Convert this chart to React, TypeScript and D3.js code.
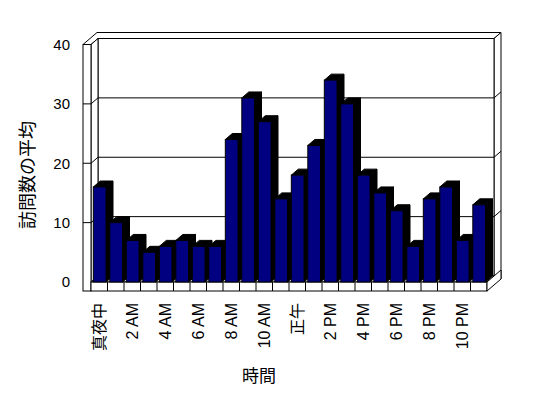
import * as d3 from 'd3';
import * as React from 'react';

const W = 548;
const H = 398;

// hours of the day (only every second one gets a label)
const hours = [
  '真夜中', '1 AM', '2 AM', '3 AM', '4 AM', '5 AM', '6 AM', '7 AM', '8 AM', '9 AM', '10 AM', '11 AM',
  '正午', '1 PM', '2 PM', '3 PM', '4 PM', '5 PM', '6 PM', '7 PM', '8 PM', '9 PM', '10 PM', '11 PM',
];
const visits = [16, 10, 7, 5, 6, 7, 6, 6, 24, 31, 27, 14, 18, 23, 34, 30, 18, 15, 12, 6, 14, 16, 7, 13];
const yTicks = [0, 10, 20, 30, 40];

const yTitle = '訪問数の平均';
const xTitle = '時間';

const font = '"Liberation Sans", Arial, "Noto Sans CJK JP", sans-serif';

// front of the plot box
const left = 91;
const right = 487;
const floorY = 282;
const floorH = 9;
const wallW = 8;
const dx = 7;
const dy = -6;

export default function App() {
  const x = d3.scaleBand<string>().domain(hours).range([left, right]);
  const y = d3.scaleLinear().domain([0, 40]).range([floorY, 44.5]);
  const step = x.step();
  const barOff = step * 0.14;
  const barW = step * 0.77;

  const top = y(40);
  const pts = (p: number[][]) => p.map(d => d.join(',')).join(' ');

  return (
    <svg
      width={W}
      height={H}
      style={{ position: 'absolute', left: 0, top: 0, background: '#fff' }}
      fontFamily={font}
    >
      <g fill="#fff" stroke="#000" strokeWidth={1}>
        {/* wall tops */}
        <polygon
          points={pts([
            [left - wallW, top],
            [left, top],
            [left + dx, top + dy],
            [right + dx, top + dy],
            [right + 2 * dx, top + 2 * dy],
            [left - wallW + 2 * dx, top + 2 * dy],
          ])}
        />
        {/* back wall right side */}
        <polygon
          points={pts([
            [right + dx, top + dy],
            [right + 2 * dx, top + 2 * dy],
            [right + 2 * dx, floorY + floorH + 2 * dy],
            [right + dx, floorY + dy],
          ])}
        />
        {/* back wall */}
        <rect x={left + dx} y={top + dy} width={right - left} height={floorY - top} />
        {/* left wall inner face */}
        <polygon
          points={pts([
            [left, top],
            [left + dx, top + dy],
            [left + dx, floorY + dy],
            [left, floorY],
          ])}
        />
        {/* left wall front */}
        <rect x={left - wallW} y={top} width={wallW} height={floorY + floorH - top} />
        {/* floor top */}
        <polygon
          points={pts([
            [left, floorY],
            [right, floorY],
            [right + dx, floorY + dy],
            [left + dx, floorY + dy],
          ])}
        />
        {/* floor front */}
        <rect x={left} y={floorY} width={right - left} height={floorH} />
        {/* floor right side */}
        <polygon
          points={pts([
            [right, floorY],
            [right + 2 * dx, floorY + 2 * dy],
            [right + 2 * dx, floorY + floorH + 2 * dy],
            [right, floorY + floorH],
          ])}
        />
      </g>

      {/* gridlines */}
      <g stroke="#000" fill="none">
        {yTicks.slice(1, -1).map(t => (
          <g key={t}>
            <line x1={left - wallW} x2={left} y1={y(t)} y2={y(t)} />
            <line x1={left} x2={left + dx} y1={y(t)} y2={y(t) + dy} />
            <line x1={left + dx} x2={right + dx} y1={y(t) + dy} y2={y(t) + dy} />
            <line x1={right + dx} x2={right + 2 * dx} y1={y(t) + dy} y2={y(t) + 2 * dy} />
          </g>
        ))}
        {hours.slice(1).map(h => (
          <line key={h} x1={x(h)} x2={x(h)} y1={floorY} y2={floorY + floorH} />
        ))}
      </g>

      {/* bars */}
      <g stroke="#000" strokeWidth={1}>
        {hours.map((h, i) => {
          const x0 = (x(h) as number) + barOff;
          const x1 = x0 + barW;
          const yt = y(visits[i]);
          return (
            <g key={h}>
              <polygon
                fill="#000"
                points={pts([
                  [x1, yt],
                  [x1 + dx, yt + dy],
                  [x1 + dx, floorY + dy],
                  [x1, floorY],
                ])}
              />
              <polygon
                fill="#000"
                points={pts([
                  [x0, yt],
                  [x0 + dx, yt + dy],
                  [x1 + dx, yt + dy],
                  [x1, yt],
                ])}
              />
              <rect x={x0} y={yt} width={barW} height={floorY - yt} fill="#000080" />
            </g>
          );
        })}
      </g>

      {/* y tick labels */}
      <g fontSize={15} textAnchor="end" fill="#000">
        {yTicks.map(t => (
          <text key={t} x={70} y={y(t)} dy="0.35em">
            {t}
          </text>
        ))}
      </g>

      {/* x tick labels */}
      <g fontSize={16} textAnchor="end" fill="#000">
        {hours.map((h, i) =>
          i % 2 === 0 ? (
            <text
              key={h}
              transform={`translate(${(x(h) as number) + step / 2},303) rotate(-90)`}
              dy="0.35em"
            >
              {h}
            </text>
          ) : null,
        )}
      </g>

      <text
        transform="translate(28,175) rotate(-90)"
        textAnchor="middle"
        dy="0.35em"
        fontSize={18}
      >
        {yTitle}
      </text>
      <text x={259} y={376} textAnchor="middle" dy="0.35em" fontSize={17}>
        {xTitle}
      </text>
    </svg>
  );
}
